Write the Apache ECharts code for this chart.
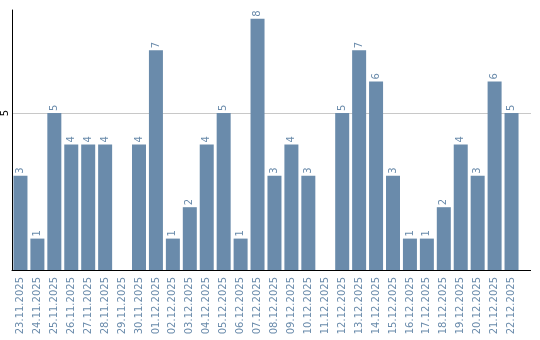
<!DOCTYPE html>
<html><head><meta charset="utf-8">
<script src="https://cdn.jsdelivr.net/npm/echarts@6/dist/echarts.min.js"></script>
<style>html,body{margin:0;padding:0;background:#fff}#c{width:540px;height:340px}</style>
</head><body><div id="c"></div>
<script>
const categories = ['23.11.2025','24.11.2025','25.11.2025','26.11.2025','27.11.2025','28.11.2025','29.11.2025','30.11.2025','01.12.2025','02.12.2025','03.12.2025','04.12.2025','05.12.2025','06.12.2025','07.12.2025','08.12.2025','09.12.2025','10.12.2025','11.12.2025','12.12.2025','13.12.2025','14.12.2025','15.12.2025','16.12.2025','17.12.2025','18.12.2025','19.12.2025','20.12.2025','21.12.2025','22.12.2025'];
const values = [3,1,5,4,4,4,0,4,7,1,2,4,5,1,8,3,4,3,0,5,7,6,3,1,1,2,4,3,6,5];
const yTicks = [5];
const barColor = '#6a8bab';
const chart = echarts.init(document.getElementById('c'), null, {renderer:'canvas'});
chart.setOption({
  animation: false,
  grid: {left: 10, right: 20, top: 10, bottom: 70, containLabel: false},
  xAxis: {
    type: 'category', data: categories,
    axisLine: {lineStyle: {color: '#000', width: 1}},
    axisTick: {show: false},
    axisLabel: {rotate: 90, interval: 0, color: barColor, fontSize: 10, fontFamily: 'DejaVu Sans', margin: 7}
  },
  yAxis: {
    type: 'value', min: 0, max: 8.28, interval: 5,
    axisLine: {show: true, lineStyle: {color: '#000', width: 1}},
    axisTick: {show: false},
    splitLine: {showMaxLine: false, lineStyle: {color: '#c8c8c8'}},
    axisLabel: {rotate: 90, color: '#000', fontSize: 10, fontFamily: 'DejaVu Sans', margin: 2, showMinLabel: false, showMaxLabel: false}
  },
  series: [{
    type: 'bar', data: values, barWidth: 14,
    itemStyle: {color: barColor},
    label: {show: true, position: 'top', rotate: 90, align: 'left', verticalAlign: 'middle', distance: 2,
      color: barColor, fontSize: 10, fontFamily: 'DejaVu Sans',
      formatter: p => p.value === 0 ? '' : String(p.value)}
  }]
});
// extend axis line and gridline to the right edge of the plot frame
const xEnd = 531;
const gridRight = 520;
const y0 = chart.convertToPixel({yAxisIndex: 0}, 0);
const graphics = [{type: 'line', shape: {x1: gridRight, y1: Math.round(y0) + 0.5, x2: xEnd, y2: Math.round(y0) + 0.5}, style: {stroke: '#000', lineWidth: 1}, z: 10}];
yTicks.forEach(t => {
  const y = chart.convertToPixel({yAxisIndex: 0}, t);
  graphics.push({type: 'line', shape: {x1: gridRight, y1: Math.round(y) + 0.5, x2: xEnd, y2: Math.round(y) + 0.5}, style: {stroke: '#c8c8c8', lineWidth: 1}, z: 0});
});
chart.setOption({graphic: graphics});
</script></body></html>
